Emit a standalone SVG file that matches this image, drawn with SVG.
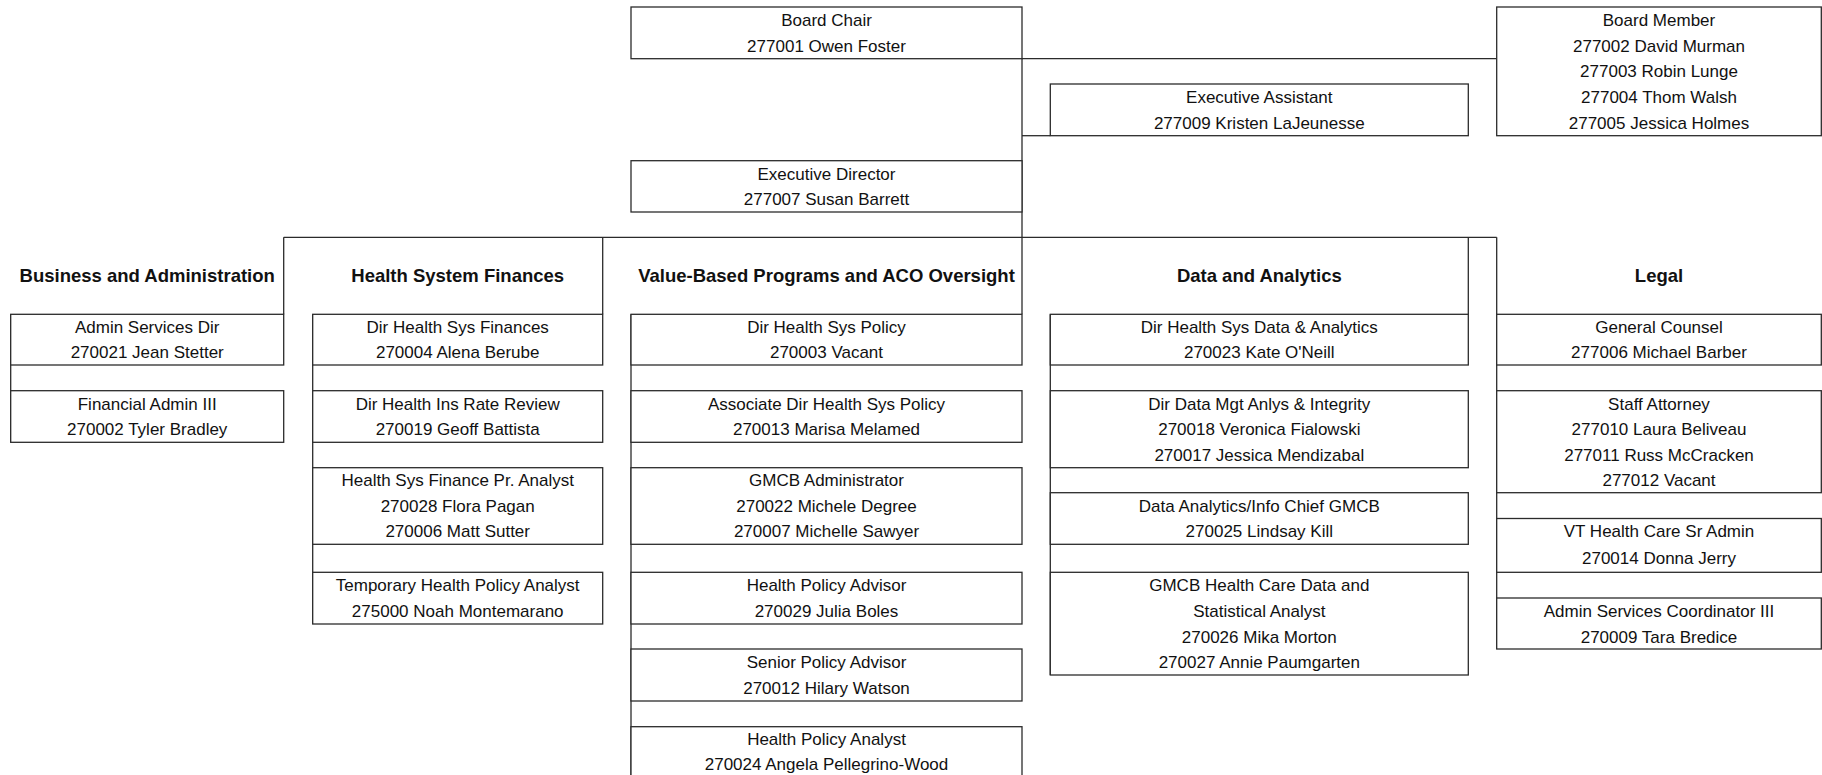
<svg xmlns="http://www.w3.org/2000/svg" width="1822" height="775" viewBox="0 0 1822 775">
<style>
  .bx { fill: #ffffff; stroke: #2b2b2b; stroke-width: 1.3; }
  .ln { fill: none; stroke: #2b2b2b; stroke-width: 1.3; }
  text { font-family: "Liberation Sans", Arial, sans-serif; fill: #111111; text-anchor: middle; }
  .t { font-size: 17px; }
  .h { font-size: 18.5px; font-weight: bold; }
</style>
<rect x="0" y="0" width="1822" height="775" fill="#ffffff"/>

<g id="connectors">
  <path class="ln" d="M1022,58.7 V314.3"/>
  <path class="ln" d="M1022,58.7 H1496.7"/>
  <path class="ln" d="M1022,135.7 H1050.3"/>
  <path class="ln" d="M283.7,237.3 H1496.7"/>
  <path class="ln" d="M283.7,237.3 V314.3"/>
  <path class="ln" d="M602.7,237.3 V314.3"/>
  <path class="ln" d="M1468.3,237.3 V314.3"/>
  <path class="ln" d="M1496.7,237.3 V314.3"/>
  <path class="ln" d="M10.7,314.3 V442.3"/>
  <path class="ln" d="M312.7,314.3 V624"/>
  <path class="ln" d="M631,314.3 V775"/>
  <path class="ln" d="M1050.3,314.3 V675"/>
  <path class="ln" d="M1496.7,314.3 V649"/>
</g>

<g id="board-chair">
  <rect class="bx" x="631" y="7" width="391" height="51.7"/>
  <text class="t" x="826.5" y="26">Board Chair</text>
  <text class="t" x="826.5" y="51.8">277001 Owen Foster</text>
</g>
<g id="board-member">
  <rect class="bx" x="1496.7" y="7" width="324.6" height="128.7"/>
  <text class="t" x="1659" y="26">Board Member</text>
  <text class="t" x="1659" y="51.8">277002 David Murman</text>
  <text class="t" x="1659" y="77.3">277003 Robin Lunge</text>
  <text class="t" x="1659" y="103">277004 Thom Walsh</text>
  <text class="t" x="1659" y="128.8">277005 Jessica Holmes</text>
</g>
<g id="executive-assistant">
  <rect class="bx" x="1050.3" y="84" width="418" height="51.7"/>
  <text class="t" x="1259.3" y="103">Executive Assistant</text>
  <text class="t" x="1259.3" y="128.8">277009 Kristen LaJeunesse</text>
</g>
<g id="executive-director">
  <rect class="bx" x="631" y="160.7" width="391" height="51.3"/>
  <text class="t" x="826.5" y="179.5">Executive Director</text>
  <text class="t" x="826.5" y="205.1">277007 Susan Barrett</text>
</g>

<g id="header-business">
  <text class="h" x="147.2" y="282.4">Business and Administration</text>
</g>
<g id="header-finances">
  <text class="h" x="457.7" y="282.4">Health System Finances</text>
</g>
<g id="header-value">
  <text class="h" x="826.5" y="282.4">Value-Based Programs and ACO Oversight</text>
</g>
<g id="header-data">
  <text class="h" x="1259.3" y="282.4">Data and Analytics</text>
</g>
<g id="header-legal">
  <text class="h" x="1659" y="282.4">Legal</text>
</g>

<g id="admin-services-dir">
  <rect class="bx" x="10.7" y="314.3" width="273" height="50.7"/>
  <text class="t" x="147.2" y="333">Admin Services Dir</text>
  <text class="t" x="147.2" y="358.4">270021 Jean Stetter</text>
</g>
<g id="financial-admin">
  <rect class="bx" x="10.7" y="390.7" width="273" height="51.6"/>
  <text class="t" x="147.2" y="409.6">Financial Admin III</text>
  <text class="t" x="147.2" y="435.4">270002 Tyler Bradley</text>
</g>

<g id="dir-health-sys-finances">
  <rect class="bx" x="312.7" y="314.3" width="290" height="50.7"/>
  <text class="t" x="457.7" y="333">Dir Health Sys Finances</text>
  <text class="t" x="457.7" y="358.4">270004 Alena Berube</text>
</g>
<g id="dir-health-ins-rate-review">
  <rect class="bx" x="312.7" y="390.7" width="290" height="51.6"/>
  <text class="t" x="457.7" y="409.6">Dir Health Ins Rate Review</text>
  <text class="t" x="457.7" y="435.4">270019 Geoff Battista</text>
</g>
<g id="finance-pr-analyst">
  <rect class="bx" x="312.7" y="467.7" width="290" height="76.6"/>
  <text class="t" x="457.7" y="486.2">Health Sys Finance Pr. Analyst</text>
  <text class="t" x="457.7" y="511.6">270028 Flora Pagan</text>
  <text class="t" x="457.7" y="537.4">270006 Matt Sutter</text>
</g>
<g id="temp-health-policy-analyst">
  <rect class="bx" x="312.7" y="572.3" width="290" height="51.7"/>
  <text class="t" x="457.7" y="591.2">Temporary Health Policy Analyst</text>
  <text class="t" x="457.7" y="617">275000 Noah Montemarano</text>
</g>

<g id="dir-health-sys-policy">
  <rect class="bx" x="631" y="314.3" width="391" height="50.7"/>
  <text class="t" x="826.5" y="333">Dir Health Sys Policy</text>
  <text class="t" x="826.5" y="358.4">270003 Vacant</text>
</g>
<g id="assoc-dir-health-sys-policy">
  <rect class="bx" x="631" y="390.7" width="391" height="51.6"/>
  <text class="t" x="826.5" y="409.6">Associate Dir Health Sys Policy</text>
  <text class="t" x="826.5" y="435.4">270013 Marisa Melamed</text>
</g>
<g id="gmcb-administrator">
  <rect class="bx" x="631" y="467.7" width="391" height="76.6"/>
  <text class="t" x="826.5" y="486.2">GMCB Administrator</text>
  <text class="t" x="826.5" y="511.6">270022 Michele Degree</text>
  <text class="t" x="826.5" y="537.4">270007 Michelle Sawyer</text>
</g>
<g id="health-policy-advisor">
  <rect class="bx" x="631" y="572.3" width="391" height="51.7"/>
  <text class="t" x="826.5" y="591.2">Health Policy Advisor</text>
  <text class="t" x="826.5" y="617">270029 Julia Boles</text>
</g>
<g id="senior-policy-advisor">
  <rect class="bx" x="631" y="649" width="391" height="52"/>
  <text class="t" x="826.5" y="668">Senior Policy Advisor</text>
  <text class="t" x="826.5" y="694">270012 Hilary Watson</text>
</g>
<g id="health-policy-analyst">
  <rect class="bx" x="631" y="726.7" width="391" height="50"/>
  <text class="t" x="826.5" y="745">Health Policy Analyst</text>
  <text class="t" x="826.5" y="770">270024 Angela Pellegrino-Wood</text>
</g>

<g id="dir-data-analytics">
  <rect class="bx" x="1050.3" y="314.3" width="418" height="50.7"/>
  <text class="t" x="1259.3" y="333">Dir Health Sys Data &amp; Analytics</text>
  <text class="t" x="1259.3" y="358.4">270023 Kate O'Neill</text>
</g>
<g id="dir-data-mgt">
  <rect class="bx" x="1050.3" y="390.7" width="418" height="77"/>
  <text class="t" x="1259.3" y="409.6">Dir Data Mgt Anlys &amp; Integrity</text>
  <text class="t" x="1259.3" y="435.4">270018 Veronica Fialowski</text>
  <text class="t" x="1259.3" y="461">270017 Jessica Mendizabal</text>
</g>
<g id="data-analytics-chief">
  <rect class="bx" x="1050.3" y="492.7" width="418" height="51.6"/>
  <text class="t" x="1259.3" y="511.6">Data Analytics/Info Chief GMCB</text>
  <text class="t" x="1259.3" y="537.4">270025 Lindsay Kill</text>
</g>
<g id="gmcb-data-analyst">
  <rect class="bx" x="1050.3" y="572.3" width="418" height="102.7"/>
  <text class="t" x="1259.3" y="591.2">GMCB Health Care Data and</text>
  <text class="t" x="1259.3" y="617">Statistical Analyst</text>
  <text class="t" x="1259.3" y="642.5">270026 Mika Morton</text>
  <text class="t" x="1259.3" y="668">270027 Annie Paumgarten</text>
</g>

<g id="general-counsel">
  <rect class="bx" x="1496.7" y="314.3" width="324.6" height="50.7"/>
  <text class="t" x="1659" y="333">General Counsel</text>
  <text class="t" x="1659" y="358.4">277006 Michael Barber</text>
</g>
<g id="staff-attorney">
  <rect class="bx" x="1496.7" y="390.7" width="324.6" height="102"/>
  <text class="t" x="1659" y="409.6">Staff Attorney</text>
  <text class="t" x="1659" y="435.4">277010 Laura Beliveau</text>
  <text class="t" x="1659" y="461">277011 Russ McCracken</text>
  <text class="t" x="1659" y="486.2">277012 Vacant</text>
</g>
<g id="vt-health-care-sr-admin">
  <rect class="bx" x="1496.7" y="518.5" width="324.6" height="53.8"/>
  <text class="t" x="1659" y="537.4">VT Health Care Sr Admin</text>
  <text class="t" x="1659" y="564.3">270014 Donna Jerry</text>
</g>
<g id="admin-services-coordinator">
  <rect class="bx" x="1496.7" y="598" width="324.6" height="51"/>
  <text class="t" x="1659" y="617">Admin Services Coordinator III</text>
  <text class="t" x="1659" y="642.5">270009 Tara Bredice</text>
</g>
</svg>
